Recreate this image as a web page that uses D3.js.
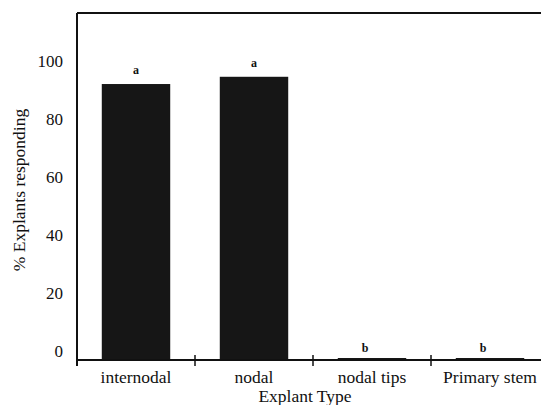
<!DOCTYPE html>
<html>
<head>
<meta charset="utf-8">
<script src="https://cdn.jsdelivr.net/npm/d3@7"></script>
<style>
  body { margin: 0; background: #fff; }
  text { font-family: "Liberation Serif", "Times New Roman", serif; fill: #111; }
</style>
</head>
<body>
<div id="chart"></div>
<script>
var categories = ["internodal", "nodal", "nodal tips", "Primary stem"];
var responding = [94.5, 97, 0, 0];
var letters = ["a", "a", "b", "b"];
var yTicks = [0, 20, 40, 60, 80, 100];

var width = 541, height = 405;
var svg = d3.select("#chart")
  .append("svg")
    .attr("width", width)
    .attr("height", height);

var data = categories.map((c, i) => ({cat: c, value: responding[i], letter: letters[i]}));

var x = d3.scaleBand()
  .domain(categories)
  .range([77, 549])
  .paddingInner(0.42)
  .paddingOuter(0.21);

var y = d3.scaleLinear()
  .domain([0, 119])
  .range([358, 13]);

// bars
svg.selectAll("rect.bar")
  .data(data)
  .enter().append("rect")
    .attr("class", "bar")
    .attr("x", d => x(d.cat))
    .attr("width", x.bandwidth())
    .attr("y", d => y(d.value))
    .attr("height", d => 360 - y(d.value))
    .attr("fill", "#161616");

// frame: left and top
svg.append("line")
  .attr("x1", 77).attr("x2", 77)
  .attr("y1", y(119)).attr("y2", 366)
  .attr("stroke", "#111").attr("stroke-width", 2);
svg.append("line")
  .attr("x1", 77).attr("x2", width)
  .attr("y1", y(119)).attr("y2", y(119))
  .attr("stroke", "#111").attr("stroke-width", 2);

// y axis labels (no tick marks)
var yAxis = svg.append("g")
  .attr("transform", "translate(77,0)")
  .call(d3.axisLeft(y).tickValues(yTicks).tickSize(0).tickPadding(14));
yAxis.select(".domain").remove();
yAxis.selectAll("text")
  .attr("font-size", 17)
  .attr("font-family", "Liberation Serif, serif")
  .attr("fill", "#111")
  .attr("dy", "-0.1em");

// x axis with ticks at band edges
var step = x.step();
var edges = d3.range(categories.length).map(i => 77 + i * step);
svg.append("line")
  .attr("x1", 77).attr("x2", width)
  .attr("y1", 360).attr("y2", 360)
  .attr("stroke", "#111").attr("stroke-width", 2);
svg.selectAll("line.xtick")
  .data(edges)
  .enter().append("line")
    .attr("class", "xtick")
    .attr("x1", d => d).attr("x2", d => d)
    .attr("y1", 355).attr("y2", 366)
    .attr("stroke", "#111").attr("stroke-width", 1.5);

svg.selectAll("text.cat")
  .data(data)
  .enter().append("text")
    .attr("class", "cat")
    .attr("x", d => x(d.cat) + x.bandwidth() / 2)
    .attr("y", 383)
    .attr("text-anchor", "middle")
    .attr("font-size", 17.5)
    .text(d => d.cat);

// significance letters
svg.selectAll("text.letter")
  .data(data)
  .enter().append("text")
    .attr("class", "letter")
    .attr("x", d => x(d.cat) + x.bandwidth() / 2 + (d.value > 0 ? 0 : -7))
    .attr("y", d => y(d.value) - (d.value > 0 ? 10 : 6))
    .attr("text-anchor", "middle")
    .attr("font-size", 12)
    .attr("font-weight", "bold")
    .text(d => d.letter);

// axis titles
svg.append("text")
  .attr("x", 305)
  .attr("y", 402)
  .attr("text-anchor", "middle")
  .attr("font-size", 17.5)
  .text("Explant Type");

svg.append("text")
  .attr("transform", "translate(25,190) rotate(-90)")
  .attr("text-anchor", "middle")
  .attr("font-size", 17.5)
  .text("% Explants responding");
</script>
</body>
</html>
